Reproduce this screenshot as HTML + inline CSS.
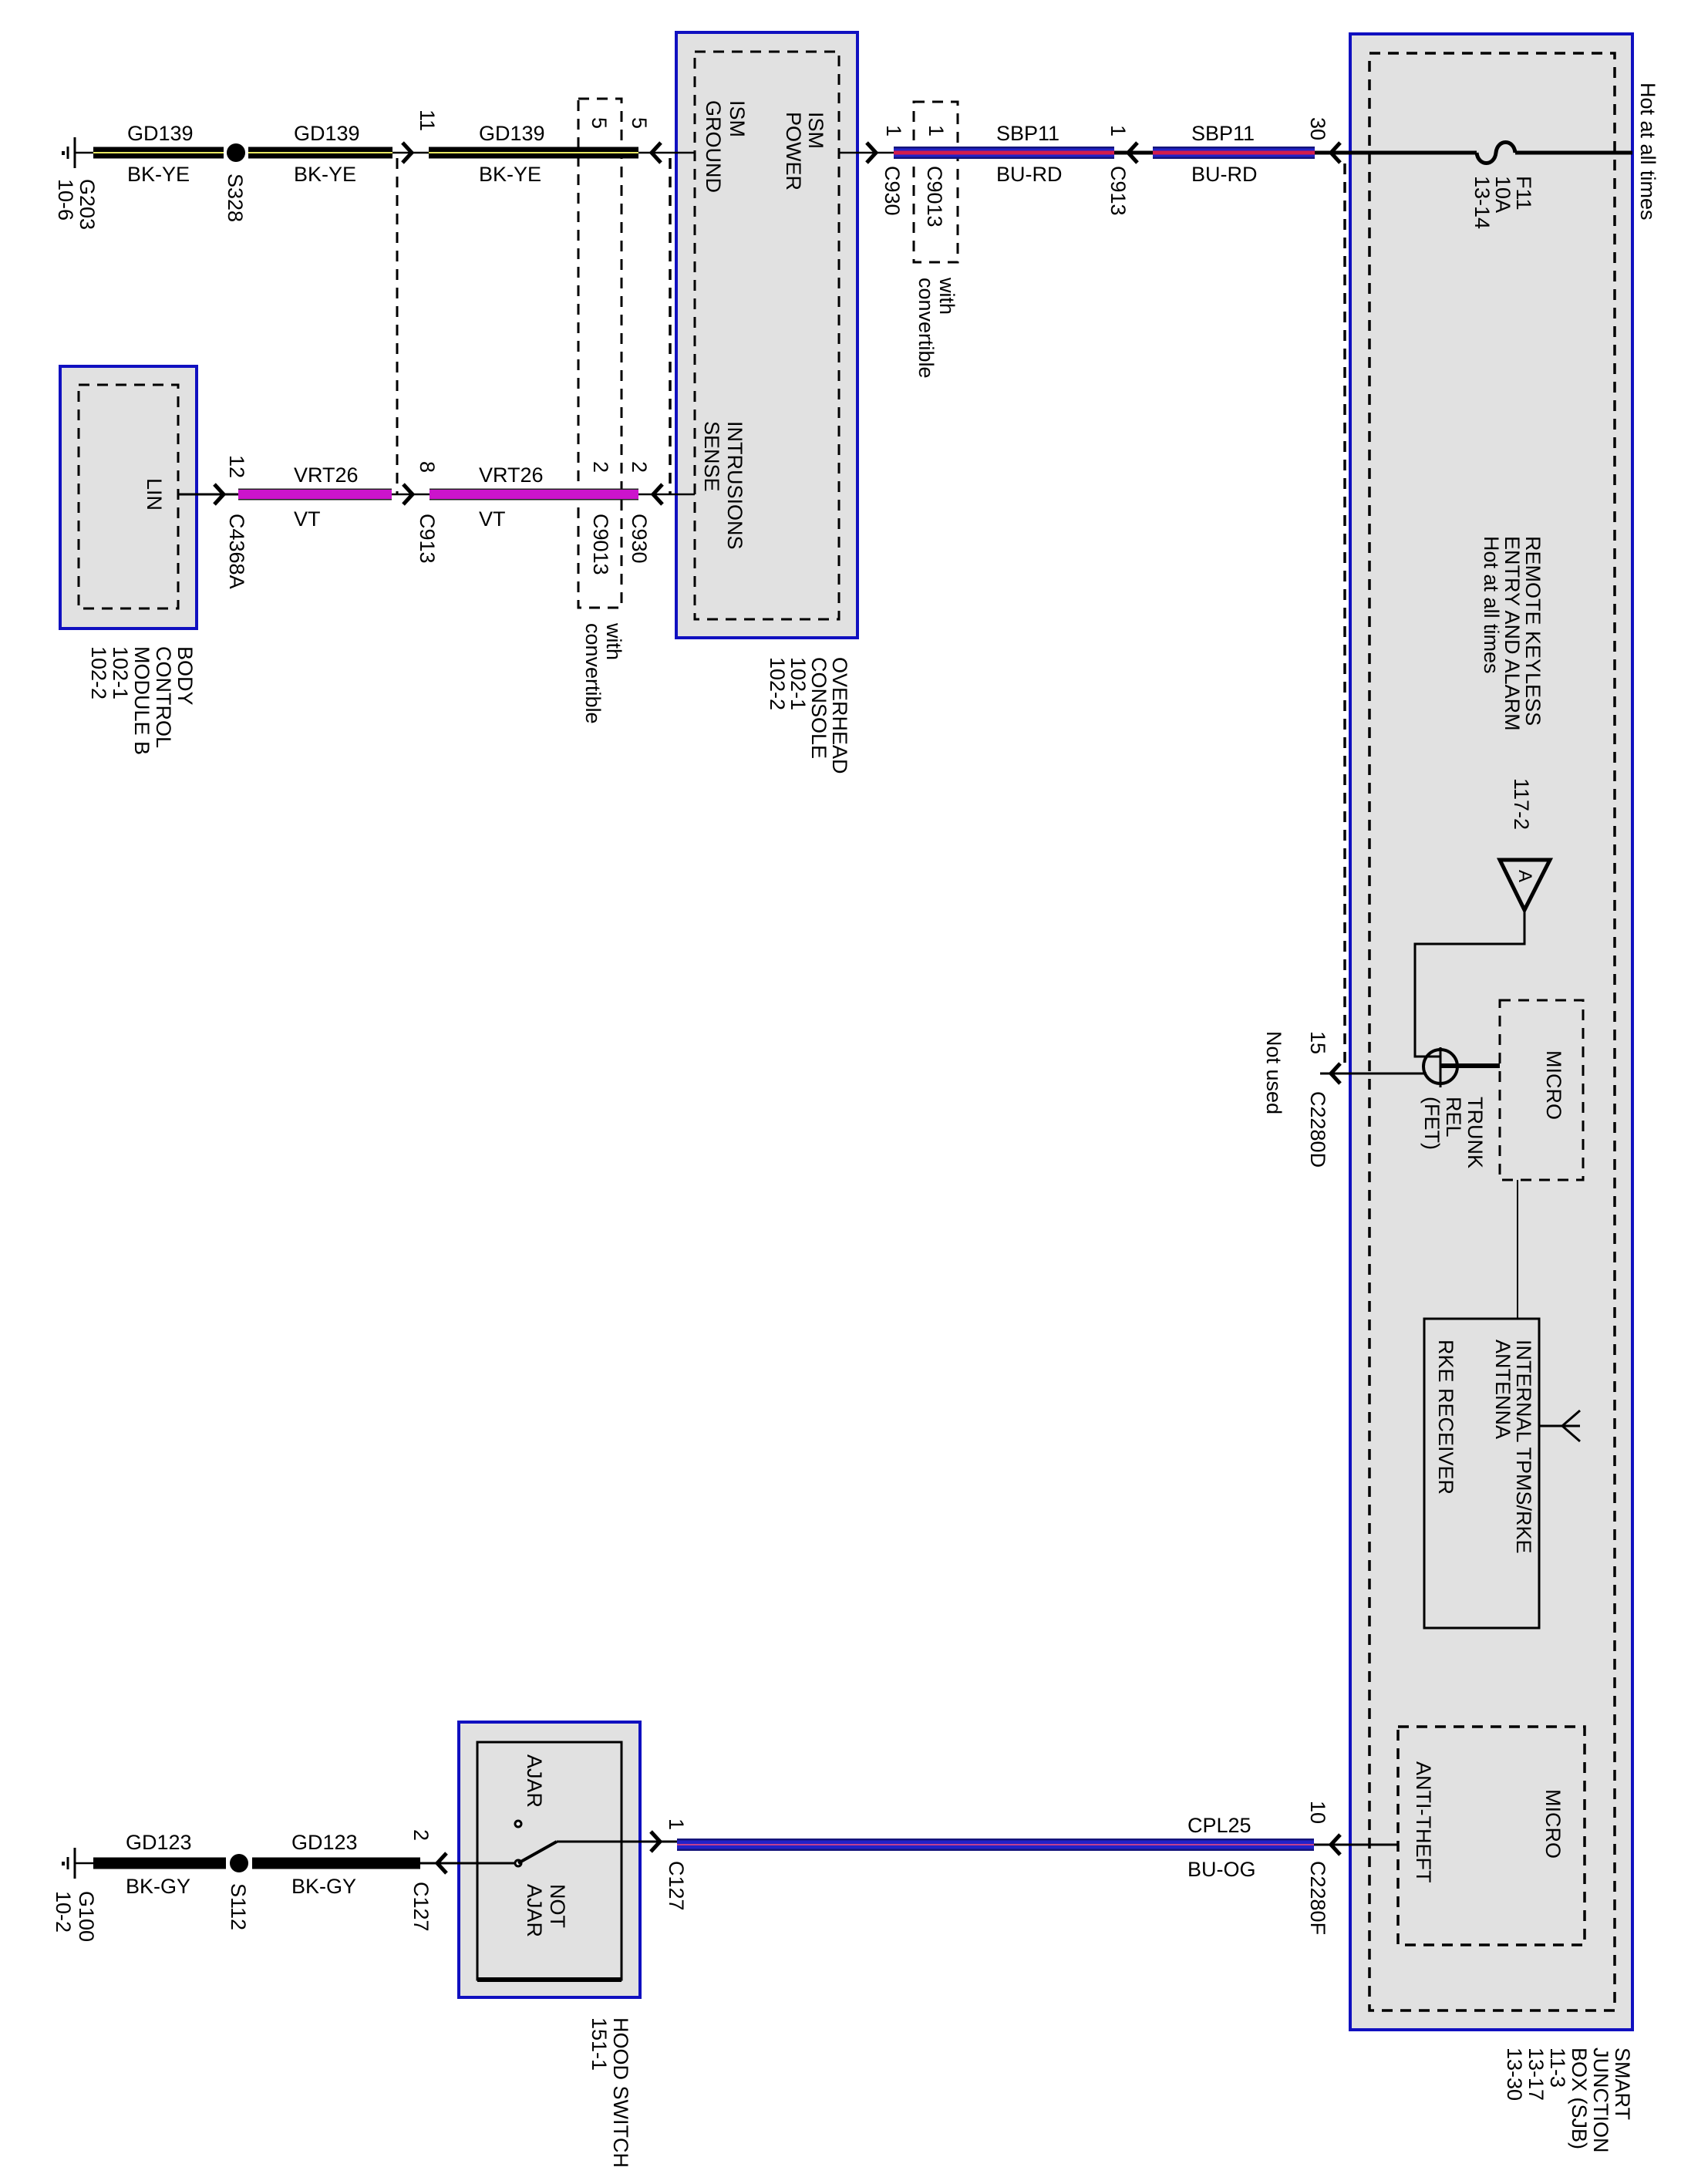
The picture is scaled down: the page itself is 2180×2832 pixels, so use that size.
<!DOCTYPE html>
<html><head><meta charset="utf-8"><style>
html,body{margin:0;padding:0;background:#fff;}
svg{display:block;}
text{font-family:"Liberation Sans",Arial,sans-serif;font-size:27px;fill:#000;}
</style></head><body>
<svg width="2180" height="2832" viewBox="0 0 2180 2832" xmlns="http://www.w3.org/2000/svg">
<defs>
<g id="ar"><polyline points="-9,-13 3,0 -9,13" fill="none" stroke="#000" stroke-width="5" stroke-linejoin="miter"/></g>
<g id="al"><polyline points="9,-13 -3,0 9,13" fill="none" stroke="#000" stroke-width="5" stroke-linejoin="miter"/></g>
</defs>

<!-- boxes -->
<rect x="1751" y="44" width="366" height="2588" fill="#e1e1e1" stroke="#1010c0" stroke-width="4"/>
<rect x="1776" y="69" width="318" height="2538" fill="none" stroke="#000" stroke-width="3.5" stroke-dasharray="14 10"/>
<rect x="877" y="42" width="235" height="785" fill="#e1e1e1" stroke="#1010c0" stroke-width="4"/>
<rect x="901" y="67" width="187" height="736" fill="none" stroke="#000" stroke-width="3" stroke-dasharray="14 10"/>
<rect x="78" y="475" width="177" height="340" fill="#e1e1e1" stroke="#1010c0" stroke-width="4"/>
<rect x="102" y="499" width="129" height="290" fill="none" stroke="#000" stroke-width="3" stroke-dasharray="14 10"/>
<rect x="595" y="2233" width="235" height="357" fill="#e1e1e1" stroke="#1010c0" stroke-width="4"/>
<rect x="619" y="2259" width="187" height="308" fill="none" stroke="#000" stroke-width="3"/>
<line x1="619" y1="2567" x2="806" y2="2567" stroke="#000" stroke-width="6"/>

<!-- dashed connector shells -->
<line x1="515" y1="205" x2="515" y2="641" stroke="#000" stroke-width="3" stroke-dasharray="14 10"/>
<line x1="869" y1="205" x2="869" y2="641" stroke="#000" stroke-width="3.5" stroke-dasharray="14 10"/>
<rect x="750" y="128" width="56" height="660" fill="none" stroke="#000" stroke-width="3" stroke-dasharray="14 10"/>
<rect x="1185" y="132" width="57" height="208" fill="none" stroke="#000" stroke-width="3" stroke-dasharray="14 10"/>
<line x1="1744" y1="212" x2="1744" y2="1380" stroke="#000" stroke-width="3.5" stroke-dasharray="14 10"/>

<!-- TOP ROW -->
<line x1="97" y1="178" x2="97" y2="218" stroke="#000" stroke-width="3"/>
<line x1="88" y1="190" x2="88" y2="206" stroke="#000" stroke-width="3"/>
<rect x="80" y="196" width="4" height="5" fill="#000"/>
<line x1="97" y1="198" x2="121" y2="198" stroke="#000" stroke-width="2.5"/>
<line x1="509" y1="198" x2="556" y2="198" stroke="#000" stroke-width="2.5"/>
<line x1="828" y1="198" x2="901" y2="198" stroke="#000" stroke-width="2.5"/>
<g stroke-linecap="butt">
<line x1="121" y1="198" x2="290" y2="198" stroke="#000" stroke-width="15"/>
<line x1="121" y1="198" x2="290" y2="198" stroke="#e8e860" stroke-width="2"/>
<line x1="322" y1="198" x2="509" y2="198" stroke="#000" stroke-width="15"/>
<line x1="322" y1="198" x2="509" y2="198" stroke="#e8e860" stroke-width="2"/>
<line x1="556" y1="198" x2="828" y2="198" stroke="#000" stroke-width="15"/>
<line x1="556" y1="198" x2="828" y2="198" stroke="#e8e860" stroke-width="2"/>
</g>
<circle cx="306" cy="198" r="12" fill="#000"/>
<use href="#ar" x="531" y="198"/>
<use href="#al" x="848" y="198"/>

<text x="165" y="182">GD139</text><text x="165" y="235">BK-YE</text>
<text x="381" y="182">GD139</text><text x="381" y="235">BK-YE</text>
<text x="621" y="182">GD139</text><text x="621" y="235">BK-YE</text>
<text transform="translate(104,232) rotate(90)">G203</text>
<text transform="translate(76,232) rotate(90)">10-6</text>
<text transform="translate(296,225) rotate(90)">S328</text>
<text transform="translate(545,142) rotate(90)">11</text>
<text transform="translate(768,152) rotate(90)">5</text>
<text transform="translate(820,152) rotate(90)">5</text>

<!-- OC texts -->
<text transform="translate(947,130) rotate(90)">ISM</text>
<text transform="translate(916,130) rotate(90)">GROUND</text>
<text transform="translate(1049,145) rotate(90)">ISM</text>
<text transform="translate(1020,145) rotate(90)">POWER</text>
<text transform="translate(944,546) rotate(90)">INTRUSIONS</text>
<text transform="translate(914,546) rotate(90)">SENSE</text>
<text transform="translate(1080,852) rotate(90)">OVERHEAD</text>
<text transform="translate(1053,852) rotate(90)">CONSOLE</text>
<text transform="translate(1026,852) rotate(90)">102-1</text>
<text transform="translate(999,852) rotate(90)">102-2</text>
<text transform="translate(787,808) rotate(90)">with</text>
<text transform="translate(760,808) rotate(90)">convertible</text>

<!-- SECOND ROW -->
<line x1="231" y1="641" x2="309" y2="641" stroke="#000" stroke-width="3"/>
<line x1="508" y1="641" x2="557" y2="641" stroke="#000" stroke-width="2.5"/>
<line x1="828" y1="641" x2="901" y2="641" stroke="#000" stroke-width="2.5"/>
<line x1="309" y1="641" x2="508" y2="641" stroke="#222" stroke-width="15"/>
<line x1="309" y1="641" x2="508" y2="641" stroke="#cc14cc" stroke-width="12"/>
<line x1="557" y1="641" x2="828" y2="641" stroke="#222" stroke-width="15"/>
<line x1="557" y1="641" x2="828" y2="641" stroke="#cc14cc" stroke-width="12"/>
<use href="#ar" x="287" y="641"/>
<use href="#ar" x="532" y="641"/>
<use href="#al" x="850" y="641"/>
<text transform="translate(191,620) rotate(90)">LIN</text>
<text x="381" y="625">VRT26</text><text x="381" y="682">VT</text>
<text x="621" y="625">VRT26</text><text x="621" y="682">VT</text>
<text transform="translate(298,590) rotate(90)">12</text>
<text transform="translate(545,598) rotate(90)">8</text>
<text transform="translate(770,598) rotate(90)">2</text>
<text transform="translate(820,598) rotate(90)">2</text>
<text transform="translate(298,666) rotate(90)">C4368A</text>
<text transform="translate(545,666) rotate(90)">C913</text>
<text transform="translate(770,666) rotate(90)">C9013</text>
<text transform="translate(820,666) rotate(90)">C930</text>
<text transform="translate(231,838) rotate(90)">BODY</text>
<text transform="translate(203,838) rotate(90)">CONTROL</text>
<text transform="translate(175,838) rotate(90)">MODULE B</text>
<text transform="translate(147,838) rotate(90)">102-1</text>
<text transform="translate(119,838) rotate(90)">102-2</text>

<!-- SBP11 -->
<line x1="1088" y1="198" x2="1159" y2="198" stroke="#000" stroke-width="2.5"/>
<line x1="1445" y1="198" x2="1495" y2="198" stroke="#000" stroke-width="5"/>
<line x1="1705" y1="198" x2="1915" y2="198" stroke="#000" stroke-width="5"/>
<line x1="1965" y1="198" x2="2117" y2="198" stroke="#000" stroke-width="5"/>
<path d="M1915,198 C1917,216 1938,216 1940,198 C1942,180 1963,180 1965,198" fill="none" stroke="#000" stroke-width="5"/>
<g>
<line x1="1159" y1="198" x2="1445" y2="198" stroke="#14147a" stroke-width="16"/>
<line x1="1159" y1="198" x2="1445" y2="198" stroke="#2222c8" stroke-width="11"/>
<line x1="1159" y1="198" x2="1445" y2="198" stroke="#d41c4c" stroke-width="5"/>
<line x1="1495" y1="198" x2="1705" y2="198" stroke="#14147a" stroke-width="16"/>
<line x1="1495" y1="198" x2="1705" y2="198" stroke="#2222c8" stroke-width="11"/>
<line x1="1495" y1="198" x2="1705" y2="198" stroke="#d41c4c" stroke-width="5"/>
</g>
<use href="#ar" x="1133" y="198"/>
<use href="#al" x="1466" y="198"/>
<use href="#al" x="1729" y="198"/>
<text x="1292" y="182">SBP11</text><text x="1292" y="235">BU-RD</text>
<text x="1545" y="182">SBP11</text><text x="1545" y="235">BU-RD</text>
<text transform="translate(1150,162) rotate(90)">1</text>
<text transform="translate(1205,162) rotate(90)">1</text>
<text transform="translate(1441,162) rotate(90)">1</text>
<text transform="translate(1700,152) rotate(90)">30</text>
<text transform="translate(1148,215) rotate(90)">C930</text>
<text transform="translate(1203,215) rotate(90)">C9013</text>
<text transform="translate(1441,215) rotate(90)">C913</text>
<text transform="translate(1219,360) rotate(90)">with</text>
<text transform="translate(1192,360) rotate(90)">convertible</text>
<text transform="translate(1967,228) rotate(90)">F11</text>
<text transform="translate(1940,228) rotate(90)">10A</text>
<text transform="translate(1913,228) rotate(90)">13-14</text>
<text transform="translate(2128,107) rotate(90)">Hot at all times</text>

<!-- SJB internals -->
<text transform="translate(1979,695) rotate(90)">REMOTE KEYLESS</text>
<text transform="translate(1952,695) rotate(90)">ENTRY AND ALARM</text>
<text transform="translate(1925,695) rotate(90)">Hot at all times</text>
<text transform="translate(1964,1009) rotate(90)">117-2</text>
<polygon points="1945,1115 2010,1115 1977,1180" fill="none" stroke="#000" stroke-width="5"/>
<text transform="translate(1970,1128) rotate(90)" style="font-size:24px">A</text>
<polyline points="1977,1180 1977,1224 1835,1224 1835,1370 1852,1370" fill="none" stroke="#000" stroke-width="3"/>
<circle cx="1868" cy="1383" r="22" fill="none" stroke="#000" stroke-width="4"/>
<line x1="1868" y1="1358" x2="1868" y2="1410" stroke="#000" stroke-width="3"/>
<line x1="1846" y1="1370" x2="1868" y2="1370" stroke="#000" stroke-width="3"/>
<line x1="1868" y1="1382" x2="1945" y2="1382" stroke="#000" stroke-width="6"/>
<line x1="1712" y1="1392" x2="1850" y2="1392" stroke="#000" stroke-width="3"/>
<use href="#al" x="1729" y="1392"/>
<text transform="translate(1700,1337) rotate(90)">15</text>
<text transform="translate(1643,1337) rotate(90)">Not used</text>
<text transform="translate(1700,1415) rotate(90)">C2280D</text>
<text transform="translate(1904,1422) rotate(90)">TRUNK</text>
<text transform="translate(1876,1422) rotate(90)">REL</text>
<text transform="translate(1848,1422) rotate(90)">(FET)</text>
<rect x="1945" y="1297" width="108" height="233" fill="none" stroke="#000" stroke-width="3" stroke-dasharray="14 10"/>
<text transform="translate(2006,1362) rotate(90)">MICRO</text>
<line x1="1968" y1="1530" x2="1968" y2="1710" stroke="#000" stroke-width="2"/>
<rect x="1847" y="1710" width="149" height="401" fill="none" stroke="#000" stroke-width="3"/>
<line x1="1996" y1="1849" x2="2049" y2="1849" stroke="#000" stroke-width="3"/>
<line x1="2026" y1="1849" x2="2049" y2="1829" stroke="#000" stroke-width="3"/>
<line x1="2026" y1="1849" x2="2049" y2="1869" stroke="#000" stroke-width="3"/>
<text transform="translate(1967,1737) rotate(90)">INTERNAL TPMS/RKE</text>
<text transform="translate(1940,1737) rotate(90)">ANTENNA</text>
<text transform="translate(1866,1737) rotate(90)">RKE RECEIVER</text>
<rect x="1813" y="2239" width="242" height="283" fill="none" stroke="#000" stroke-width="3.5" stroke-dasharray="14 10"/>
<text transform="translate(2005,2320) rotate(90)">MICRO</text>
<text transform="translate(1837,2284) rotate(90)">ANTI-THEFT</text>
<text transform="translate(2095,2655) rotate(90)">SMART</text>
<text transform="translate(2067,2655) rotate(90)">JUNCTION</text>
<text transform="translate(2039,2655) rotate(90)">BOX (SJB)</text>
<text transform="translate(2011,2655) rotate(90)">11-3</text>
<text transform="translate(1983,2655) rotate(90)">13-17</text>
<text transform="translate(1955,2655) rotate(90)">13-30</text>

<!-- BOTTOM ROW -->
<line x1="97" y1="2396" x2="97" y2="2436" stroke="#000" stroke-width="3"/>
<line x1="88" y1="2408" x2="88" y2="2424" stroke="#000" stroke-width="3"/>
<rect x="80" y="2414" width="4" height="5" fill="#000"/>
<line x1="97" y1="2416" x2="121" y2="2416" stroke="#000" stroke-width="2.5"/>
<line x1="121" y1="2416" x2="293" y2="2416" stroke="#000" stroke-width="15"/>
<line x1="327" y1="2416" x2="545" y2="2416" stroke="#000" stroke-width="15"/>
<circle cx="310" cy="2416" r="12" fill="#000"/>
<line x1="545" y1="2416" x2="672" y2="2416" stroke="#000" stroke-width="3"/>
<use href="#al" x="570" y="2416"/>
<circle cx="672" cy="2416" r="4" fill="#fff" stroke="#000" stroke-width="3"/>
<line x1="672" y1="2416" x2="722" y2="2388" stroke="#000" stroke-width="4"/>
<circle cx="672" cy="2365" r="4" fill="#fff" stroke="#000" stroke-width="3"/>
<line x1="722" y1="2388" x2="878" y2="2388" stroke="#000" stroke-width="3"/>
<use href="#ar" x="853" y="2388"/>
<line x1="878" y1="2392" x2="1704" y2="2392" stroke="#14147a" stroke-width="16"/>
<line x1="878" y1="2392" x2="1704" y2="2392" stroke="#2222c8" stroke-width="11"/>
<line x1="878" y1="2392" x2="1704" y2="2392" stroke="#c04090" stroke-width="2"/>
<line x1="1704" y1="2392" x2="1813" y2="2392" stroke="#000" stroke-width="3"/>
<use href="#al" x="1729" y="2392"/>
<text x="1540" y="2376">CPL25</text><text x="1540" y="2433">BU-OG</text>
<text transform="translate(1700,2335) rotate(90)">10</text>
<text transform="translate(1700,2413) rotate(90)">C2280F</text>
<text x="163" y="2398">GD123</text><text x="163" y="2455">BK-GY</text>
<text x="378" y="2398">GD123</text><text x="378" y="2455">BK-GY</text>
<text transform="translate(103,2452) rotate(90)">G100</text>
<text transform="translate(73,2452) rotate(90)">10-2</text>
<text transform="translate(300,2442) rotate(90)">S112</text>
<text transform="translate(537,2372) rotate(90)">2</text>
<text transform="translate(537,2440) rotate(90)">C127</text>
<text transform="translate(868,2358) rotate(90)">1</text>
<text transform="translate(868,2413) rotate(90)">C127</text>
<text transform="translate(684,2275) rotate(90)">AJAR</text>
<text transform="translate(714,2443) rotate(90)">NOT</text>
<text transform="translate(684,2443) rotate(90)">AJAR</text>
<text transform="translate(796,2616) rotate(90)">HOOD SWITCH</text>
<text transform="translate(768,2616) rotate(90)">151-1</text>
</svg>
</body></html>
